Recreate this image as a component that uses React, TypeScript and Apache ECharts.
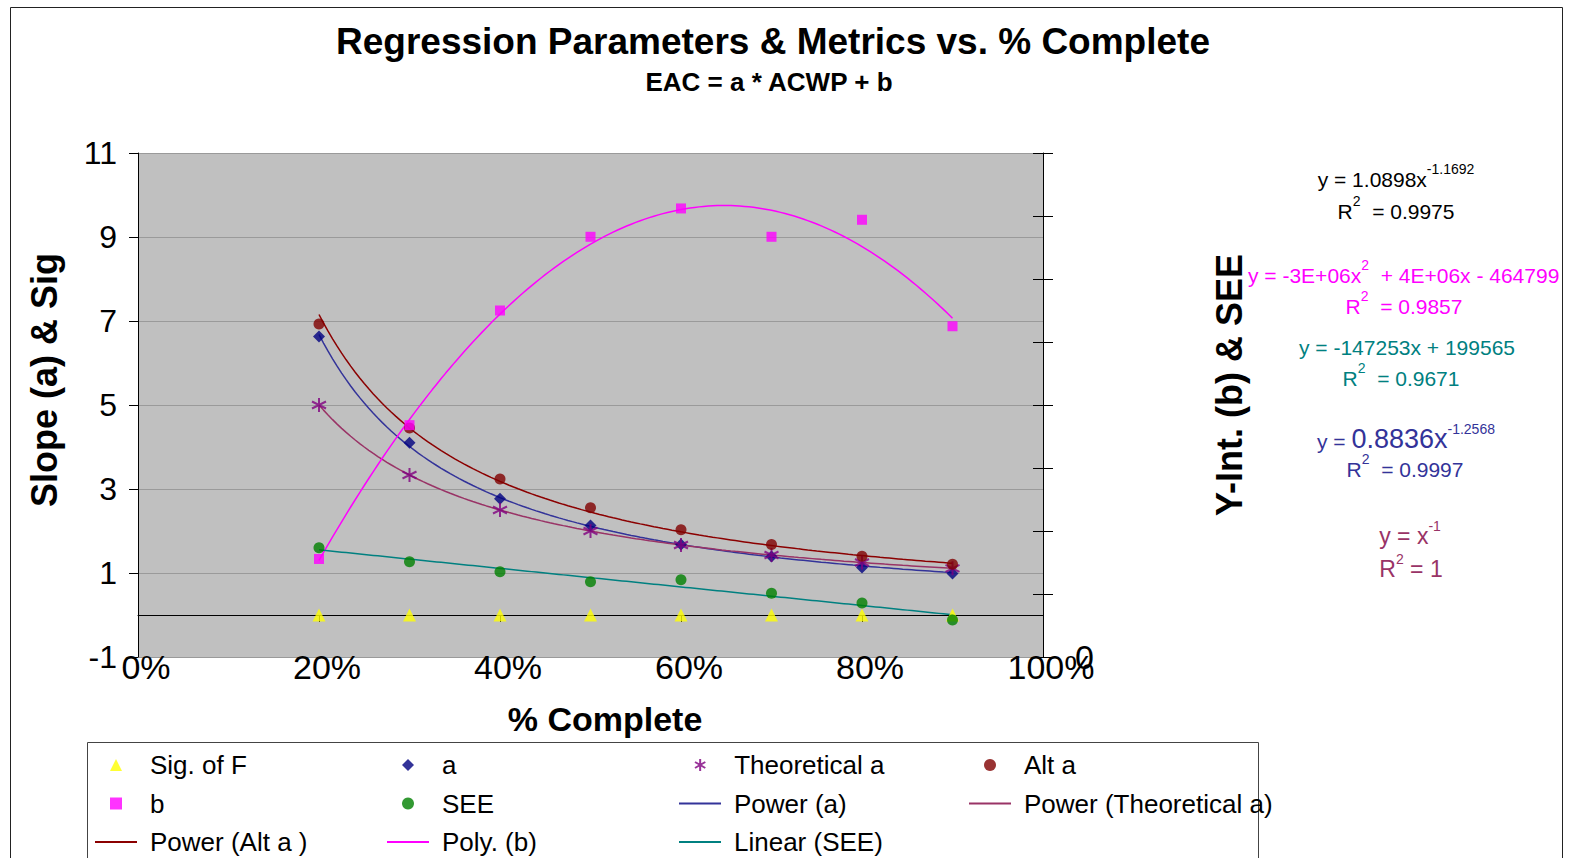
import React, { useEffect, useRef } from "react";
import * as echarts from "echarts";

// ---------- data ----------
const pctComplete = [0.2, 0.3, 0.4, 0.5, 0.6, 0.7, 0.8, 0.9];
const sigOfF = [0, 0, 0, 0, 0, 0, 0, 0];
const slopeA = [6.63, 4.1, 2.77, 2.13, 1.68, 1.39, 1.13, 0.99];
const theoreticalA = [5.0, 3.333, 2.5, 2.0, 1.667, 1.429, 1.25, 1.111];
const altA = [6.93, 4.45, 3.24, 2.555, 2.03, 1.68, 1.4, 1.21];
const yIntB = [155600, 368000, 550000, 667000, 712000, 667000, 694000, 525000];
const seeValues = [173500, 151300, 135400, 119500, 122700, 101100, 85700, 58700];

// trendline coefficients as displayed on the chart
const powerACoef = [0.8836, -1.2568];
const powerAltACoef = [1.0898, -1.1692];
const powerTheoCoef = [1, -1];
const linearSeeCoef = [-147253, 199565];

const xTickLabels = ["0%", "20%", "40%", "60%", "80%", "100%"];
const leftTickLabels = ["-1", "1", "3", "5", "7", "9", "11"];

const FONT = "'Liberation Sans', Arial, sans-serif";

function pairs(ys: number[]) {
  return pctComplete.map((x, i) => [x, ys[i]]);
}

function trendXs() {
  const lo = Math.min(...pctComplete);
  const hi = Math.max(...pctComplete);
  const out: number[] = [];
  const n = 140;
  for (let i = 0; i <= n; i++) out.push(lo + ((hi - lo) * i) / n);
  return out;
}

function powerCurve(coef: number[]) {
  return trendXs().map((x) => [x, coef[0] * Math.pow(x, coef[1])]);
}

function linearCurve(coef: number[]) {
  return trendXs().map((x) => [x, coef[0] * x + coef[1]]);
}

// least-squares quadratic fit of b
function polyFit2(xv: number[], yv: number[]) {
  const S = [
    [0, 0, 0],
    [0, 0, 0],
    [0, 0, 0],
  ];
  const T = [0, 0, 0];
  for (let i = 0; i < xv.length; i++) {
    for (let r = 0; r < 3; r++) {
      T[r] += yv[i] * Math.pow(xv[i], r);
      for (let c = 0; c < 3; c++) S[r][c] += Math.pow(xv[i], r + c);
    }
  }
  const M = S.map((row, r) => [...row, T[r]]);
  for (let k = 0; k < 3; k++) {
    let p = k;
    for (let r = k + 1; r < 3; r++) if (Math.abs(M[r][k]) > Math.abs(M[p][k])) p = r;
    [M[k], M[p]] = [M[p], M[k]];
    for (let r = k + 1; r < 3; r++) {
      const f = M[r][k] / M[k][k];
      for (let c = k; c < 4; c++) M[r][c] -= f * M[k][c];
    }
  }
  const sol = [0, 0, 0];
  for (let r = 2; r >= 0; r--) {
    let s = M[r][3];
    for (let c = r + 1; c < 3; c++) s -= M[r][c] * sol[c];
    sol[r] = s / M[r][r];
  }
  return sol;
}

function polyCurve() {
  const c = polyFit2(pctComplete, yIntB);
  return trendXs().map((x) => [x, c[0] + c[1] * x + c[2] * x * x]);
}

const STAR = "path://M5 0 L5 10 M0.7 2.5 L9.3 7.5 M0.7 7.5 L9.3 2.5";

export default function App() {
  const ref = useRef<HTMLDivElement>(null);

  useEffect(() => {
    if (!ref.current) return;
    const chart = echarts.init(ref.current, null, { renderer: "svg" });

    const legendText = (pad: number) => ({
      fontSize: 26,
      color: "#000",
      lineHeight: 26,
      fontFamily: FONT,
      padding: [0, 0, 0, pad],
    });
    const scatterLegend = (left: number, top: number, data: string[]) => ({
      orient: "vertical",
      padding: 0,
      left,
      top,
      itemWidth: 12,
      itemHeight: 12,
      itemGap: 12.5,
      selectedMode: false,
      textStyle: legendText(23),
      data,
    });
    const lineLegend = (left: number, top: number, data: string[]) => ({
      orient: "vertical",
      padding: 0,
      left,
      top,
      itemWidth: 42,
      itemHeight: 2,
      itemGap: 12.5,
      icon: "rect",
      selectedMode: false,
      textStyle: legendText(8),
      data,
    });
    const ROW1 = 752;
    const ROW2 = 790.5;
    const ROW3 = 829;

    const sup = (size: number, color: string) => ({
      fontSize: size,
      lineHeight: size,
      verticalAlign: "top",
      fill: color,
      color,
      fontFamily: FONT,
    });
    const base = (size: number, color: string, lh = 28) => ({
      fontSize: size,
      lineHeight: lh,
      verticalAlign: "bottom",
      fill: color,
      color,
      fontFamily: FONT,
    });

    const eqText = (text: string, x: number, y: number, color: string, align = "center", size = 21, extraRich: any = {}) => ({
      type: "text",
      x,
      y,
      z: 10,
      style: {
        text,
        align,
        verticalAlign: "middle",
        fill: color,
        font: `${size}px ${FONT}`,
        rich: { b: base(size, color), s: sup(14, color), ...extraRich },
      },
    });

    const option: any = {
      animation: false,
      backgroundColor: "#ffffff",
      textStyle: { fontFamily: FONT },
      grid: {
        left: 138,
        right: 527,
        top: 153,
        bottom: 201,
        show: true,
        backgroundColor: "#C0C0C0",
        borderWidth: 0,
      },
      xAxis: [
        {
          type: "value",
          min: 0,
          max: 1,
          interval: 0.2,
          position: "bottom",
          axisLine: { show: false, onZero: false },
          axisTick: { show: false },
          splitLine: { show: false },
          axisLabel: {
            fontSize: 34,
            color: "#000",
            fontFamily: FONT,
            margin: -7,
            padding: [0, 0, 0, 16],
            formatter: (v: number) => xTickLabels[Math.round(v * 5)] ?? "",
          },
        },
        {
          type: "value",
          min: 0,
          max: 1,
          interval: 0.2,
          position: "bottom",
          axisLine: { show: true, onZero: true, onZeroAxisIndex: 1, lineStyle: { color: "#000", width: 1 } },
          axisTick: { show: true, length: 7, lineStyle: { color: "#000" } },
          axisLabel: { show: false },
          splitLine: { show: false },
        },
      ],
      yAxis: [
        {
          type: "value",
          min: 0,
          max: 12,
          interval: 2,
          position: "left",
          axisLine: { show: true, onZero: false, lineStyle: { color: "#000" } },
          axisTick: { show: true, length: 9, lineStyle: { color: "#000" } },
          axisLabel: {
            fontSize: 32,
            color: "#000",
            fontFamily: FONT,
            margin: 21,
            formatter: (v: number) => leftTickLabels[Math.round(v / 2)] ?? "",
          },
          splitLine: { show: true, lineStyle: { color: "#9a9a9a", width: 1 } },
        },
        { type: "value", min: -1, max: 11, show: false, axisLine: { onZero: false } },
        {
          type: "value",
          min: 0,
          max: 800000,
          interval: 100000,
          position: "right",
          axisLine: { show: true, onZero: false, lineStyle: { color: "#000" } },
          axisTick: { show: true, length: 10, lineStyle: { color: "#000" } },
          axisLabel: {
            fontSize: 34,
            color: "#000",
            fontFamily: FONT,
            margin: 32,
            formatter: (v: number) => (v === 0 ? "0" : ""),
          },
          splitLine: { show: false },
        },
        {
          type: "value",
          min: 0,
          max: 800000,
          interval: 100000,
          position: "right",
          axisLine: { show: false, onZero: false },
          axisTick: { show: true, inside: true, length: 10, lineStyle: { color: "#000" } },
          axisLabel: { show: false },
          splitLine: { show: false },
        },
      ],
      legend: [
        scatterLegend(110, ROW1, ["Sig. of F", "b"]),
        lineLegend(95, ROW3, ["Power (Alt a )"]),
        scatterLegend(402, ROW1, ["a", "SEE"]),
        lineLegend(387, ROW3, ["Poly. (b)"]),
        scatterLegend(694, ROW1, ["Theoretical a"]),
        lineLegend(679, ROW2, ["Power (a)", "Linear (SEE)"]),
        scatterLegend(984, ROW1, ["Alt a"]),
        lineLegend(969, ROW2, ["Power (Theoretical a)"]),
      ],
      series: [
        {
          name: "Power (a)",
          type: "line",
          yAxisIndex: 1,
          symbol: "none",
          z: 2,
          lineStyle: { color: "#333399", width: 1.5 },
          itemStyle: { color: "#333399" },
          data: powerCurve(powerACoef),
        },
        {
          name: "Power (Theoretical a)",
          type: "line",
          yAxisIndex: 1,
          symbol: "none",
          z: 2,
          lineStyle: { color: "#993366", width: 1.5 },
          itemStyle: { color: "#993366" },
          data: powerCurve(powerTheoCoef),
        },
        {
          name: "Power (Alt a )",
          type: "line",
          yAxisIndex: 1,
          symbol: "none",
          z: 2,
          lineStyle: { color: "#8B0000", width: 1.5 },
          itemStyle: { color: "#8B0000" },
          data: powerCurve(powerAltACoef),
        },
        {
          name: "Poly. (b)",
          type: "line",
          yAxisIndex: 2,
          symbol: "none",
          z: 2,
          lineStyle: { color: "#FF00FF", width: 1.5 },
          itemStyle: { color: "#FF00FF" },
          data: polyCurve(),
        },
        {
          name: "Linear (SEE)",
          type: "line",
          yAxisIndex: 2,
          symbol: "none",
          z: 2,
          lineStyle: { color: "#008080", width: 1.5 },
          itemStyle: { color: "#008080" },
          data: linearCurve(linearSeeCoef),
        },
        {
          name: "Sig. of F",
          type: "scatter",
          yAxisIndex: 1,
          symbol: "triangle",
          symbolSize: 13,
          z: 3,
          itemStyle: { color: "#FFFF00" },
          data: pairs(sigOfF),
        },
        {
          name: "a",
          type: "scatter",
          yAxisIndex: 1,
          symbol: "diamond",
          symbolSize: 12,
          z: 3,
          itemStyle: { color: "#000080" },
          data: pairs(slopeA),
        },
        {
          name: "Theoretical a",
          type: "scatter",
          yAxisIndex: 1,
          symbol: STAR,
          symbolSize: 14,
          z: 3,
          itemStyle: { color: "rgba(0,0,0,0)", borderColor: "#800080", borderWidth: 2 },
          data: pairs(theoreticalA),
        },
        {
          name: "Alt a",
          type: "scatter",
          yAxisIndex: 1,
          symbol: "circle",
          symbolSize: 11,
          z: 3,
          itemStyle: { color: "#800000" },
          data: pairs(altA),
        },
        {
          name: "b",
          type: "scatter",
          yAxisIndex: 2,
          symbol: "rect",
          symbolSize: 10,
          z: 3,
          itemStyle: { color: "#FF00FF" },
          data: pairs(yIntB),
        },
        {
          name: "SEE",
          type: "scatter",
          yAxisIndex: 2,
          symbol: "circle",
          symbolSize: 11,
          z: 3,
          itemStyle: { color: "#008000" },
          data: pairs(seeValues),
        },
      ],
      graphic: {
        elements: [
          {
            type: "rect",
            z: 0,
            shape: { x: 10.5, y: 7.5, width: 1552, height: 900 },
            style: { fill: "none", stroke: "#222", lineWidth: 1 },
          },
          {
            type: "rect",
            z: 0,
            shape: { x: 87.5, y: 742.5, width: 1171, height: 200 },
            style: { fill: "none", stroke: "#444", lineWidth: 1 },
          },
          {
            type: "text",
            x: 773,
            y: 41,
            style: {
              text: "Regression Parameters & Metrics vs. % Complete",
              font: `bold 37px ${FONT}`,
              fill: "#000",
              align: "center",
              verticalAlign: "middle",
            },
          },
          {
            type: "text",
            x: 769,
            y: 82,
            style: {
              text: "EAC = a * ACWP + b",
              font: `bold 26px ${FONT}`,
              fill: "#000",
              align: "center",
              verticalAlign: "middle",
            },
          },
          {
            type: "text",
            x: 44,
            y: 380,
            rotation: Math.PI / 2,
            style: {
              text: "Slope (a) & Sig",
              font: `bold 36px ${FONT}`,
              fill: "#000",
              align: "center",
              verticalAlign: "middle",
            },
          },
          {
            type: "text",
            x: 1229,
            y: 385,
            rotation: Math.PI / 2,
            style: {
              text: "Y-Int. (b) & SEE",
              font: `bold 36px ${FONT}`,
              fill: "#000",
              align: "center",
              verticalAlign: "middle",
            },
          },
          {
            type: "text",
            x: 605,
            y: 719,
            style: {
              text: "% Complete",
              font: `bold 34px ${FONT}`,
              fill: "#000",
              align: "center",
              verticalAlign: "middle",
            },
          },
          eqText("{b|y = 1.0898x}{s|-1.1692}", 1396, 176, "#000000"),
          eqText("{b|R}{s|2}{b|  = 0.9975}", 1396, 208, "#000000"),
          eqText("{b|y = -3E+06x}{s|2}{b|  + 4E+06x - 464799}", 1248, 272, "#FF00FF", "left"),
          eqText("{b|R}{s|2}{b|  = 0.9857}", 1404, 303, "#FF00FF"),
          eqText("{b|y = -147253x + 199565}", 1407, 344, "#008080"),
          eqText("{b|R}{s|2}{b|  = 0.9671}", 1401, 375, "#008080"),
          eqText("{b|y = }{L|0.8836x}{s|-1.2568}", 1406, 437, "#333399", "center", 21, {
            L: base(27, "#333399", 30),
          }),
          eqText("{b|R}{s|2}{b|  = 0.9997}", 1405, 466, "#333399"),
          eqText("{b|y = x}{s|-1}", 1410, 533, "#993366", "center", 23),
          eqText("{b|R}{s|2}{b| = 1}", 1411, 566, "#993366", "center", 23),
        ],
      },
    };

    chart.setOption(option);
    return () => chart.dispose();
  }, []);

  return (
    <div
      ref={ref}
      style={{ position: "absolute", left: 0, top: 0, width: 1570, height: 858 }}
    />
  );
}
